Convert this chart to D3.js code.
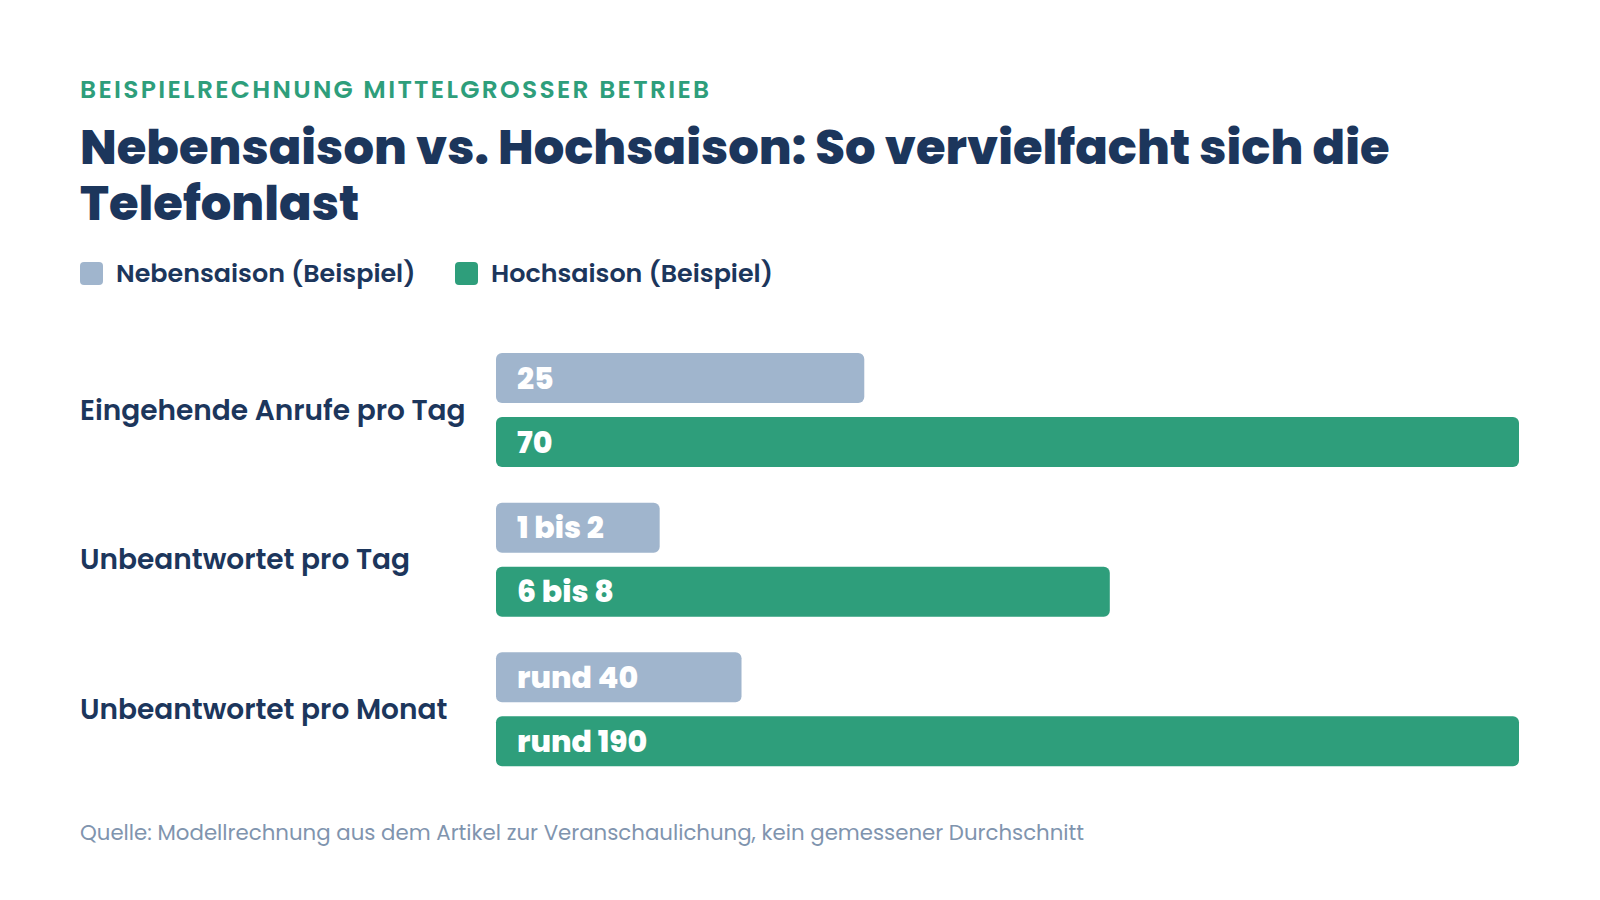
<!DOCTYPE html>
<html>
<head>
<meta charset="utf-8">
<script src="https://cdn.jsdelivr.net/npm/d3@7"></script>
<style>
  html, body { margin: 0; padding: 0; background: #fff; }
  svg { display: block; font-family: Poppins, Inter, "Open Sans", sans-serif; }
</style>
</head>
<body>
<svg id="chart"></svg>
<script>
const categories = ["Eingehende Anrufe pro Tag", "Unbeantwortet pro Tag", "Unbeantwortet pro Monat"];
const seriesNames = ["Nebensaison (Beispiel)", "Hochsaison (Beispiel)"];
// bar length as share of the widest bar (%)
const offSeason = [36, 16, 24];
const peakSeason = [100, 60, 100];
// printed values inside the bars
const offLabels = ["25", "1 bis 2", "rund 40"];
const peakLabels = ["70", "6 bis 8", "rund 190"];

const width = 1600, height = 900;
const margin = { left: 80, right: 81 };
const navy = "#1c365c", green = "#2e9e7b", blue = "#a0b5cd";

const svg = d3.select("#chart").attr("width", width).attr("height", height);
svg.append("rect").attr("width", width).attr("height", height).attr("fill", "#fff");

svg.append("text")
  .attr("x", margin.left).attr("y", 98)
  .attr("fill", green).attr("font-size", 25).attr("font-weight", 600)
  .attr("letter-spacing", 2.3)
  .text("BEISPIELRECHNUNG MITTELGROSSER BETRIEB");

const titleLines = ["Nebensaison vs. Hochsaison: So vervielfacht sich die", "Telefonlast"];
svg.append("g").selectAll("text")
  .data(titleLines)
  .join("text")
  .attr("x", margin.left)
  .attr("y", (d, i) => 164 + i * 56)
  .attr("fill", navy).attr("font-size", 48).attr("font-weight", 800)
  .text(d => d);

// legend
const legendX = [80, 455];
const legend = svg.append("g").selectAll("g")
  .data(seriesNames)
  .join("g")
  .attr("transform", (d, i) => `translate(${legendX[i]},262)`);
legend.append("rect")
  .attr("width", 23).attr("height", 23).attr("rx", 4)
  .attr("fill", (d, i) => i ? green : blue);
legend.append("text")
  .attr("x", 36).attr("y", 20)
  .attr("fill", navy).attr("font-size", 25.4).attr("font-weight", 600)
  .text(d => d);

// bars
const x = d3.scaleLinear().domain([0, 100]).range([496, width - margin.right]);
const y = d3.scaleBand().domain(categories).range([353, 802]).paddingInner(0);
const barH = 50, barGap = 14;

const groups = svg.append("g").selectAll("g")
  .data(categories)
  .join("g")
  .attr("transform", d => `translate(0,${y(d)})`);

groups.append("text")
  .attr("x", margin.left).attr("y", barH + barGap / 2)
  .attr("dy", "0.35em")
  .attr("fill", navy).attr("font-size", 28).attr("font-weight", 600)
  .text(d => d);

const rows = (d, i) => [
  { v: offSeason[i], label: offLabels[i], color: blue, dy: 0 },
  { v: peakSeason[i], label: peakLabels[i], color: green, dy: barH + barGap }
];

const bar = groups.selectAll("g.bar")
  .data(rows)
  .join("g").attr("class", "bar")
  .attr("transform", d => `translate(0,${d.dy})`);

bar.append("rect")
  .attr("x", x(0)).attr("width", d => x(d.v) - x(0))
  .attr("height", barH).attr("rx", 6)
  .attr("fill", d => d.color);

bar.append("text")
  .attr("x", x(0) + 21).attr("y", barH / 2).attr("dy", "0.35em")
  .attr("fill", "#fff").attr("font-size", 30).attr("font-weight", 800)
  .text(d => d.label);

svg.append("text")
  .attr("x", margin.left).attr("y", 840)
  .attr("fill", "#8094ae").attr("font-size", 21.3)
  .text("Quelle: Modellrechnung aus dem Artikel zur Veranschaulichung, kein gemessener Durchschnitt");
</script>
</body>
</html>
